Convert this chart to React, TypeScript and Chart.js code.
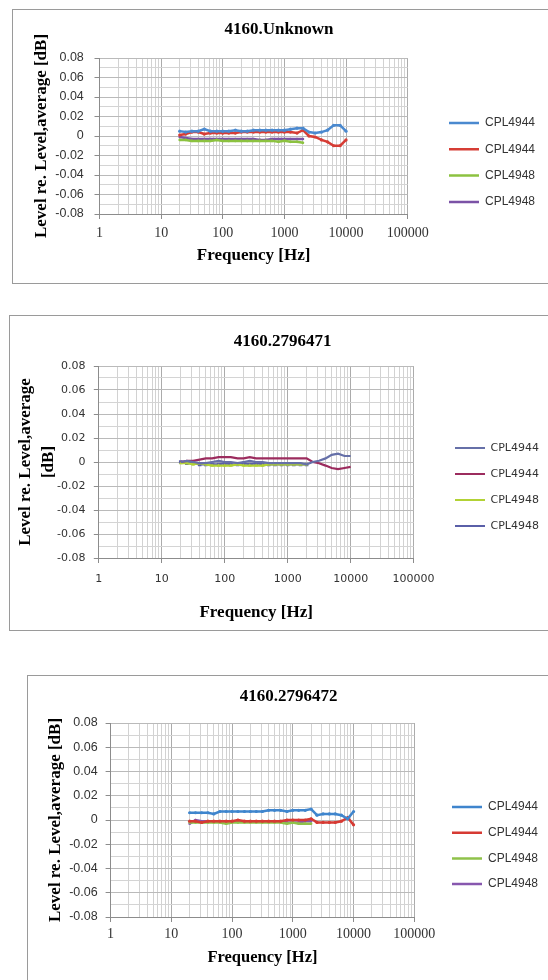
import React, { useEffect, useRef } from 'react';
import { Chart, registerables } from 'chart.js';

Chart.register(...registerables);

// ---------------- data ----------------
const FREQ_A = [20, 25, 31.5, 40, 50, 63, 80, 100, 125, 160, 200, 250, 315, 400, 500, 630, 800, 1000, 1250, 1600, 2000, 2500, 3150, 4000, 5000, 6300, 8000, 10000];
const FREQ_B = [20, 25, 31.5, 40, 50, 63, 80, 100, 125, 160, 200, 250, 315, 400, 500, 630, 800, 1000, 1250, 1600, 2000];

const SERIES_LABELS = ['CPL4944', 'CPL4944', 'CPL4948', 'CPL4948'];
const TITLES = ['4160.Unknown', '4160.2796471', '4160.2796472'];
const X_TITLE = 'Frequency [Hz]';
const Y_TITLE = 'Level re. Level,average [dB]';
const Y_TITLE_2LINES = ['Level re. Level,average', '[dB]'];

const X_DECADES = [1, 10, 100, 1000, 10000, 100000];
const Y_GRID = [-0.08, -0.07, -0.06, -0.05, -0.04, -0.03, -0.02, -0.01, 0, 0.01, 0.02, 0.03, 0.04, 0.05, 0.06, 0.07, 0.08];

// chart 1: 4160.Unknown
const C1_4944_A = [0.005, 0.004, 0.005, 0.005, 0.007, 0.005, 0.005, 0.005, 0.005, 0.006, 0.005, 0.005, 0.006, 0.006, 0.006, 0.006, 0.006, 0.006, 0.007, 0.008, 0.008, 0.004, 0.003, 0.004, 0.006, 0.011, 0.011, 0.005];
const C1_4944_B = [0.001, 0.002, 0.004, 0.004, 0.002, 0.003, 0.003, 0.003, 0.003, 0.003, 0.004, 0.004, 0.004, 0.004, 0.004, 0.004, 0.004, 0.004, 0.004, 0.003, 0.006, 0.0, -0.001, -0.004, -0.006, -0.010, -0.010, -0.004];
const C1_4948_A = [-0.004, -0.004, -0.005, -0.005, -0.005, -0.005, -0.004, -0.005, -0.005, -0.005, -0.005, -0.005, -0.005, -0.005, -0.005, -0.005, -0.006, -0.005, -0.006, -0.006, -0.007];
const C1_4948_B = [-0.001, -0.002, -0.003, -0.003, -0.003, -0.003, -0.003, -0.003, -0.003, -0.003, -0.003, -0.003, -0.003, -0.004, -0.004, -0.003, -0.003, -0.003, -0.003, -0.003, -0.003];

// chart 2: 4160.2796471
const C2_4944_A = [0.0, 0.001, 0.0, -0.001, -0.001, 0.0, 0.001, 0.0, 0.0, -0.001, 0.0, 0.001, 0.0, 0.0, -0.001, -0.001, -0.001, -0.001, -0.001, -0.001, -0.002, 0.0, 0.001, 0.003, 0.006, 0.007, 0.005, 0.005];
const C2_4944_B = [0.0, 0.001, 0.001, 0.002, 0.003, 0.003, 0.004, 0.004, 0.004, 0.003, 0.003, 0.004, 0.003, 0.003, 0.003, 0.003, 0.003, 0.003, 0.003, 0.003, 0.003, 0.0, -0.001, -0.003, -0.005, -0.006, -0.005, -0.004];
const C2_4948_A = [-0.001, -0.001, -0.002, -0.001, -0.002, -0.003, -0.003, -0.003, -0.003, -0.002, -0.003, -0.003, -0.003, -0.003, -0.002, -0.002, -0.002, -0.002, -0.002, -0.002, -0.002];
const C2_4948_B = [0.0, -0.001, -0.001, -0.002, -0.002, -0.002, -0.002, -0.001, -0.002, -0.002, -0.001, -0.002, -0.001, -0.002, -0.002, -0.002, -0.002, -0.002, -0.002, -0.002, -0.002];

// chart 3: 4160.2796472
const C3_4944_A = [0.006, 0.006, 0.006, 0.006, 0.005, 0.007, 0.007, 0.007, 0.007, 0.007, 0.007, 0.007, 0.007, 0.008, 0.008, 0.008, 0.007, 0.008, 0.008, 0.008, 0.009, 0.004, 0.005, 0.005, 0.005, 0.004, 0.001, 0.007];
const C3_4944_B = [-0.001, -0.001, -0.002, -0.001, -0.001, -0.001, -0.001, -0.001, 0.0, -0.001, -0.001, -0.001, -0.001, -0.001, -0.001, -0.001, 0.0, 0.0, 0.0, 0.0, 0.001, -0.002, -0.002, -0.002, -0.002, -0.001, 0.002, -0.004];
const C3_4948_A = [-0.002, -0.002, -0.002, -0.002, -0.002, -0.002, -0.003, -0.002, -0.002, -0.002, -0.002, -0.002, -0.002, -0.002, -0.002, -0.002, -0.003, -0.002, -0.003, -0.003, -0.003];
const C3_4948_B = [-0.003, 0.0, -0.001, -0.001, -0.001, -0.001, -0.001, -0.001, -0.001, -0.001, -0.001, -0.001, -0.001, -0.001, -0.001, -0.001, -0.002, -0.002, -0.002, -0.001, -0.001];

// ---------------- styles / layout ----------------
const SERIF = "'Liberation Serif', 'Times New Roman', serif";
const SANS = "'Liberation Sans', Arial, sans-serif";
const DEJAVU = "'DejaVu Sans', Verdana, sans-serif";

type Cfg = {
  title: string;
  series: { x: number[]; y: number[] }[];
  colors: string[];
  lineWidth: number;
  pointStyles: string[];
  pointRadius: number[];
  box: { left: number; top: number; height: number };
  canvas: { left: number; top: number; w: number; h: number };
  plotLeft: number;
  xAxisH: number;
  padRight: number;
  titleCx: number;
  titlePad: { top: number; bottom: number };
  yTitle: string | string[];
  yTitleLH: number;
  yTitlePadTop: number;
  yTickFont: { family: string; size: number };
  yTickPad: number;
  xTickFont: { family: string; size: number };
  xTickPad: number;
  xTitleSize: number;
  xTitlePadBottom: number;
  legendFont: { family: string; size: number };
  legendPad: number;
  legendX: number;
  legendY: number;
};

const CHARTS: Cfg[] = [
  {
    title: TITLES[0],
    series: [
      { x: FREQ_A, y: C1_4944_A },
      { x: FREQ_A, y: C1_4944_B },
      { x: FREQ_B, y: C1_4948_A },
      { x: FREQ_B, y: C1_4948_B },
    ],
    colors: ['#4a89cf', '#d63d35', '#8cc240', '#7b52a6'],
    lineWidth: 2.5,
    pointStyles: ['circle', 'circle', 'circle', 'circle'],
    pointRadius: [1.6, 1.6, 1.3, 1.3],
    box: { left: 12, top: 9, height: 275 },
    canvas: { left: 12, top: 9, w: 536, h: 274 },
    plotLeft: 87.5,
    xAxisH: 69,
    padRight: 80.3,
    titleCx: 267,
    titlePad: { top: 10.8, bottom: 17.8 },
    yTitle: Y_TITLE,
    yTitleLH: 1.2,
    yTitlePadTop: 19.8,
    yTickFont: { family: SANS, size: 12.5 },
    yTickPad: 10.7,
    xTickFont: { family: SERIF, size: 14 },
    xTickPad: 5.6,
    xTitleSize: 17,
    xTitlePadBottom: 16.8,
    legendFont: { family: SANS, size: 12 },
    legendPad: 14.3,
    legendX: 437,
    legendY: 114,
  },
  {
    title: TITLES[1],
    series: [
      { x: FREQ_A, y: C2_4944_A },
      { x: FREQ_A, y: C2_4944_B },
      { x: FREQ_B, y: C2_4948_A },
      { x: FREQ_B, y: C2_4948_B },
    ],
    colors: ['#6670a8', '#9c2c5e', '#b2d235', '#5a5fa8'],
    lineWidth: 2.2,
    pointStyles: ['circle', 'circle', 'triangle', 'rect'],
    pointRadius: [0, 0, 2, 2.5],
    box: { left: 9, top: 315, height: 316 },
    canvas: { left: 9, top: 315, w: 539, h: 315 },
    plotLeft: 89.8,
    xAxisH: 72,
    padRight: 74.4,
    titleCx: 273.7,
    titlePad: { top: 16.8, bottom: 13.8 },
    yTitle: Y_TITLE_2LINES,
    yTitleLH: 1.35,
    yTitlePadTop: 5.5,
    yTickFont: { family: DEJAVU, size: 11 },
    yTickPad: 8.3,
    xTickFont: { family: DEJAVU, size: 11 },
    xTickPad: 9.4,
    xTitleSize: 17,
    xTitlePadBottom: 6.8,
    legendFont: { family: DEJAVU, size: 11 },
    legendPad: 15,
    legendX: 446,
    legendY: 133,
  },
  {
    title: TITLES[2],
    series: [
      { x: FREQ_A, y: C3_4944_A },
      { x: FREQ_A, y: C3_4944_B },
      { x: FREQ_B, y: C3_4948_A },
      { x: FREQ_B, y: C3_4948_B },
    ],
    colors: ['#3f85cd', '#d63a33', '#8fc24a', '#8757ae'],
    lineWidth: 2.5,
    pointStyles: ['circle', 'circle', 'circle', 'circle'],
    pointRadius: [1.6, 1.6, 1.3, 1.3],
    box: { left: 27, top: 675, height: 400 },
    canvas: { left: 27, top: 675, w: 521, h: 305 },
    plotLeft: 83.6,
    xAxisH: 63,
    padRight: 73.7,
    titleCx: 261.7,
    titlePad: { top: 11.8, bottom: 15.8 },
    yTitle: Y_TITLE,
    yTitleLH: 1.2,
    yTitlePadTop: 18.8,
    yTickFont: { family: SANS, size: 12.5 },
    yTickPad: 7.9,
    xTickFont: { family: SERIF, size: 14 },
    xTickPad: 3.6,
    xTitleSize: 16.5,
    xTitlePadBottom: 12.8,
    legendFont: { family: SANS, size: 12 },
    legendPad: 13.7,
    legendX: 425,
    legendY: 132,
  },
];

const LEGEND_LINE = 30;
const LEGEND_CAP = 60;

function xGridValues(): number[] {
  const out: number[] = [];
  for (let i = 0; i < X_DECADES.length - 1; i++) {
    for (let m = 1; m <= 9; m++) out.push(m * X_DECADES[i]);
  }
  out.push(X_DECADES[X_DECADES.length - 1]);
  return out;
}

function isDecade(v: number) {
  return X_DECADES.some((d) => Math.abs(d - v) < 1e-9 * d);
}

function fmtY(v: number) {
  const k = Math.round(v * 100);
  if (k % 2 !== 0) return '';
  return k === 0 ? '0' : (k / 100).toFixed(2);
}

function makeChart(canvas: HTMLCanvasElement, c: Cfg) {
  const xGrid = xGridValues();
  const placer = {
    id: 'placer',
    afterLayout(chart: any) {
      const t = chart.titleBlock;
      if (t) {
        t.left = c.titleCx - 250;
        t.right = c.titleCx + 250;
        t.width = 500;
      }
      const lg = chart.legend;
      if (lg) {
        lg.left = c.legendX - c.legendPad;
        lg.right = lg.left + 200;
        lg.width = 200;
        lg.top = c.legendY - c.legendFont.size / 2 - c.legendPad;
        lg.bottom = lg.top + 400;
        lg.height = 400;
      }
    },
  };

  const defaultGen = (Chart as any).defaults.plugins.legend.labels.generateLabels;

  return new Chart(canvas, {
    type: 'line',
    data: {
      datasets: c.series.map((s, i) => ({
        label: SERIES_LABELS[i],
        data: s.x.map((x, j) => ({ x, y: s.y[j] })),
        borderColor: c.colors[i],
        backgroundColor: c.colors[i],
        borderWidth: c.lineWidth,
        pointStyle: c.pointStyles[i] as any,
        pointRadius: c.pointRadius[i],
        pointBorderWidth: 0,
        pointBackgroundColor: c.colors[i],
        tension: 0,
        fill: false,
      })),
    },
    options: {
      animation: false,
      responsive: false,
      maintainAspectRatio: false,
      layout: { padding: { left: 0, top: 0, bottom: 0, right: c.padRight } },
      plugins: {
        title: {
          display: true,
          text: c.title,
          color: '#000',
          font: { family: SERIF, size: 17, weight: 'bold', lineHeight: 1.2 },
          padding: c.titlePad,
        },
        legend: {
          display: true,
          position: 'right',
          align: 'start',
          maxWidth: LEGEND_CAP,
          labels: {
            usePointStyle: true,
            pointStyle: 'line',
            pointStyleWidth: LEGEND_LINE,
            padding: c.legendPad,
            color: '#333',
            font: { family: c.legendFont.family, size: c.legendFont.size },
            generateLabels: (chart: any) =>
              defaultGen(chart).map((item: any, i: number) => ({
                ...item,
                pointStyle: 'line',
                lineWidth: c.lineWidth,
                strokeStyle: c.colors[i],
                fillStyle: c.colors[i],
              })),
          },
        },
        tooltip: { enabled: false },
      },
      scales: {
        x: {
          type: 'logarithmic',
          min: 1,
          max: 100000,
          afterBuildTicks: (s: any) => {
            s.ticks = xGrid.map((v) => ({ value: v }));
          },
          afterFit: (s: any) => {
            s.height = c.xAxisH;
          },
          ticks: {
            autoSkip: false,
            maxRotation: 0,
            minRotation: 0,
            padding: c.xTickPad,
            color: '#333',
            font: { family: c.xTickFont.family, size: c.xTickFont.size },
            callback: (v: any) => (isDecade(Number(v)) ? String(Number(v)) : ''),
          },
          grid: {
            color: (ctx: any) => (ctx.tick && isDecade(ctx.tick.value) ? '#ababab' : '#d2d2d2'),
            tickColor: (ctx: any) => (ctx.tick && isDecade(ctx.tick.value) ? '#8c8c8c' : 'rgba(0,0,0,0)'),
            tickLength: 5,
            lineWidth: 1,
          },
          border: { display: true, color: '#8c8c8c', width: 1 },
          title: {
            display: true,
            text: X_TITLE,
            color: '#000',
            font: { family: SERIF, size: c.xTitleSize, weight: 'bold', lineHeight: 1.2 },
            padding: { top: 0, bottom: c.xTitlePadBottom },
          },
        },
        y: {
          type: 'linear',
          min: -0.08,
          max: 0.08,
          afterBuildTicks: (s: any) => {
            s.ticks = Y_GRID.map((v) => ({ value: v }));
          },
          afterFit: (s: any) => {
            s.width = c.plotLeft;
          },
          ticks: {
            autoSkip: false,
            stepSize: 0.01,
            padding: c.yTickPad,
            color: '#333',
            font: { family: c.yTickFont.family, size: c.yTickFont.size },
            callback: (v: any) => fmtY(Number(v)),
          },
          grid: {
            color: (ctx: any) => (ctx.tick && Math.round(ctx.tick.value * 100) % 2 === 0 ? '#bababa' : '#d4d4d4'),
            tickColor: (ctx: any) => (ctx.tick && Math.round(ctx.tick.value * 100) % 2 === 0 ? '#8c8c8c' : 'rgba(0,0,0,0)'),
            tickLength: 5,
            lineWidth: 1,
          },
          border: { display: true, color: '#8c8c8c', width: 1 },
          title: {
            display: true,
            text: c.yTitle as any,
            color: '#000',
            font: { family: SERIF, size: 17, weight: 'bold', lineHeight: c.yTitleLH },
            padding: { top: c.yTitlePadTop, bottom: 0 },
          },
        },
      },
    } as any,
    plugins: [placer as any],
  });
}

function ChartPanel({ c }: { c: Cfg }) {
  const ref = useRef<HTMLCanvasElement | null>(null);
  useEffect(() => {
    if (!ref.current) return;
    const chart = makeChart(ref.current, c);
    return () => chart.destroy();
  }, [c]);
  return (
    <>
      <div
        style={{
          position: 'absolute',
          left: c.box.left,
          top: c.box.top,
          width: 700,
          height: c.box.height,
          border: '1px solid #9a9a9a',
          boxSizing: 'border-box',
          background: '#fff',
        }}
      />
      <canvas
        ref={ref}
        width={c.canvas.w}
        height={c.canvas.h}
        style={{
          position: 'absolute',
          left: c.canvas.left,
          top: c.canvas.top,
          width: c.canvas.w,
          height: c.canvas.h,
        }}
      />
    </>
  );
}

export default function App() {
  return (
    <div
      style={{
        position: 'absolute',
        left: 0,
        top: 0,
        width: 548,
        height: 980,
        overflow: 'hidden',
        background: '#fff',
      }}
    >
      {CHARTS.map((c, i) => (
        <ChartPanel key={i} c={c} />
      ))}
    </div>
  );
}
